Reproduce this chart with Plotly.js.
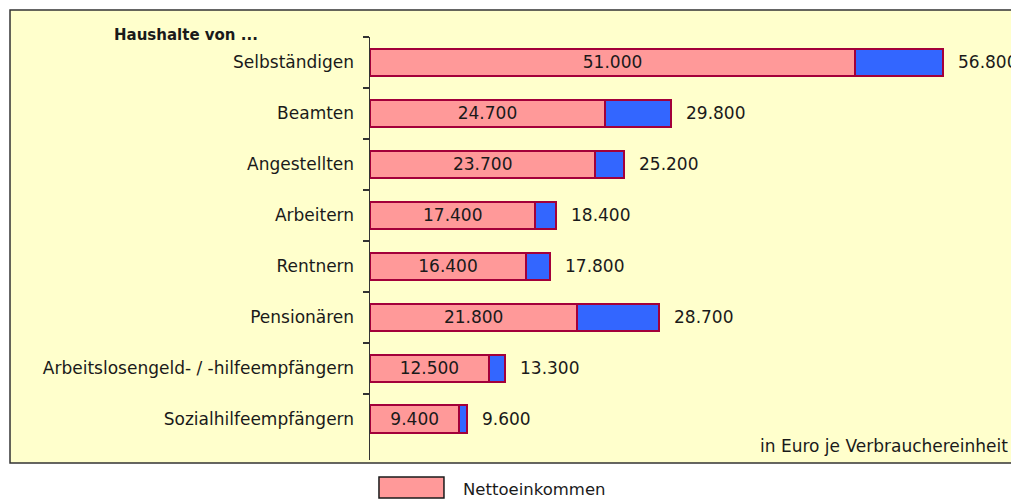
<!DOCTYPE html>
<html>
<head>
<meta charset="utf-8">
<script src="https://cdn.plot.ly/plotly-3.0.1.min.js"></script>
<style>
html,body{margin:0;padding:0;background:#fff;}
#chart{width:1011px;height:501px;}
</style>
</head>
<body>
<div id="chart"></div>
<script>
// Data
var categories = ["Selbständigen","Beamten","Angestellten","Arbeitern","Rentnern","Pensionären","Arbeitslosengeld- / -hilfeempfängern","Sozialhilfeempfängern"];
var netIncome = [51000, 24700, 23700, 17400, 16400, 21800, 12500, 9400];
var blueSegment = [9200, 7000, 3000, 2150, 2570, 8570, 1690, 790];
var totalLabels = ["56.800","29.800","25.200","18.400","17.800","28.700","13.300","9.600"];
var netLabels = ["51.000","24.700","23.700","17.400","16.400","21.800","12.500","9.400"];
var seriesName = "Nettoeinkommen";
var groupTitle = "Haushalte von ...";
var unitNote = "in Euro je Verbrauchereinheit";

var FONT = "DejaVu Sans, sans-serif";
var TXT = "#1a1a1a";

var pink = {
  type: "bar", orientation: "h", name: seriesName,
  y: categories, x: netIncome, text: netLabels,
  textposition: "inside", insidetextanchor: "middle", textangle: 0,
  constraintext: "none",
  textfont: {family: FONT, size: 17, color: TXT},
  marker: {color: "#FF9999", line: {color: "#A3003A", width: 2}},
  hoverinfo: "none", showlegend: false
};
var blue = {
  type: "bar", orientation: "h", name: "",
  y: categories, x: blueSegment,
  marker: {color: "#3366FF", line: {color: "#A3003A", width: 2}},
  hoverinfo: "none", showlegend: false
};

var annotations = categories.map(function(c, i){
  return {x: netIncome[i] + blueSegment[i], y: c, xref: "x", yref: "y",
    text: totalLabels[i], showarrow: false, xanchor: "left", yanchor: "middle",
    xshift: 13, font: {family: FONT, size: 17, color: TXT}};
});
annotations.push({x: -0.402, y: 1.005, xref: "paper", yref: "paper", text: "<b>" + groupTitle + "</b>",
  showarrow: false, xanchor: "left", yanchor: "middle", font: {family: FONT, size: 15, color: TXT}});
annotations.push({x: 0.998, y: 0.033, xref: "paper", yref: "paper", text: unitNote,
  showarrow: false, xanchor: "right", yanchor: "middle", font: {family: FONT, size: 17, color: TXT}});
annotations.push({x: 0.1424, y: -0.0686, xref: "paper", yref: "paper", text: seriesName,
  showarrow: false, xanchor: "left", yanchor: "middle", font: {family: FONT, size: 16.5, color: TXT}});

var layout = {
  width: 1011, height: 501,
  margin: {l: 370, r: 0, t: 37, b: 41},
  paper_bgcolor: "#ffffff", plot_bgcolor: "rgba(0,0,0,0)",
  barmode: "stack", bargap: 0.46,
  showlegend: false,
  font: {family: FONT, size: 17, color: TXT},
  xaxis: {range: [0, 67400], visible: false, fixedrange: true},
  yaxis: {type: "category", range: [7.8, -0.5], showline: true, linecolor: "#333333", linewidth: 1.5,
    ticks: "outside", tickson: "boundaries", ticklen: 6, tickwidth: 1.5, tickcolor: "#333333",
    ticklabelstandoff: 11, showgrid: false, zeroline: false,
    tickfont: {family: FONT, size: 17, color: TXT}},
  shapes: [
    {type: "rect", xref: "paper", yref: "paper", x0: -0.5616, x1: 1.02, y0: -0.0071, y1: 1.0638,
      fillcolor: "#FFFFCC", line: {color: "#333333", width: 1.5}, layer: "below"},
    {type: "rect", xref: "paper", yref: "paper", x0: 0.0140, x1: 0.1154, y0: -0.0898, y1: -0.0402,
      fillcolor: "#FF9999", line: {color: "#1a1a1a", width: 1.5}, layer: "above"}
  ],
  annotations: annotations
};

Plotly.newPlot("chart", [pink, blue], layout, {staticPlot: true, displayModeBar: false});
</script>
</body>
</html>
